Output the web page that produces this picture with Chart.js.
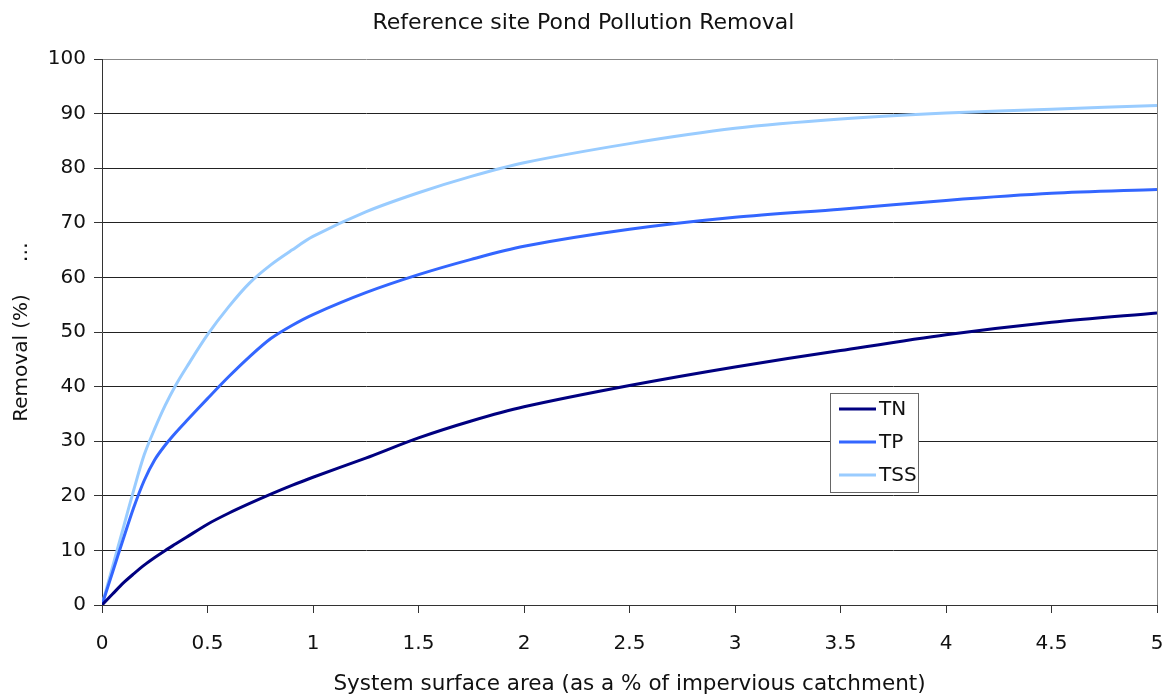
<!DOCTYPE html>
<html>
<head>
<meta charset="utf-8">
<script src="https://cdn.jsdelivr.net/npm/chart.js@4"></script>
<style>
  html, body { margin: 0; padding: 0; background: #fff; }
  #wrap { width: 1167px; height: 697px; position: relative; }
</style>
</head>
<body>
<div id="wrap"><canvas id="chart"></canvas></div>
<script>
// System surface area (% of impervious catchment)
const areaPct = [0, 0.05, 0.1, 0.15, 0.2, 0.25, 0.3, 0.35, 0.4, 0.5, 0.6, 0.7, 0.8, 0.9, 1.0,
                 1.25, 1.5, 1.75, 2, 2.5, 3, 3.5, 4, 4.5, 5];
// Removal (%)
const tnRemoval  = [0, 2, 4, 5.7, 7.3, 8.7, 10, 11.2, 12.4, 14.8, 16.8, 18.6, 20.3, 21.9, 23.4,
                    26.9, 30.6, 33.7, 36.3, 40.2, 43.6, 46.6, 49.5, 51.8, 53.5];
const tpRemoval  = [0, 6, 12, 17.8, 22.8, 26.6, 29.3, 31.6, 33.7, 37.8, 41.8, 45.5, 48.8, 51.2, 53.2,
                    57.2, 60.5, 63.3, 65.7, 68.8, 71, 72.5, 74.1, 75.4, 76.1];
const tssRemoval = [0, 7, 14, 21, 27.5, 32.3, 36.6, 40.3, 43.5, 49.5, 54.6, 59, 62.3, 65, 67.5,
                    72, 75.5, 78.5, 81, 84.5, 87.3, 89, 90.1, 90.8, 91.5];
const yTicks = [0, 10, 20, 30, 40, 50, 60, 70, 80, 90, 100];
const xTicks = [0, 0.5, 1, 1.5, 2, 2.5, 3, 3.5, 4, 4.5, 5];

const FONT = "'DejaVu Sans', sans-serif";
const toPoints = (ys) => areaPct.map((x, i) => ({ x: x, y: ys[i] }));

function makeSeries(label, ys, color) {
    return {
        label: label,
        data: toPoints(ys),
        borderColor: color,
        backgroundColor: color,
        borderWidth: 3,
        pointRadius: 0,
        tension: 0.3,
        fill: false
    };
}

// legend drawn in a box inside the plot area, like the original
const boxLegend = {
    id: 'boxLegend',
    afterDraw(chart) {
        const ctx = chart.ctx;
        const area = chart.chartArea;
        const left = area.left + 728, top = area.top + 334;
        const w = 88, h = 99;
        ctx.save();
        ctx.fillStyle = '#fff';
        ctx.fillRect(left, top, w, h);
        ctx.strokeStyle = '#666';
        ctx.lineWidth = 1;
        ctx.strokeRect(left + 0.5, top + 0.5, w, h);
        ctx.font = '20px ' + FONT;
        ctx.textBaseline = 'middle';
        chart.data.datasets.forEach((ds, i) => {
            const y = top + 16 + i * 33;
            ctx.strokeStyle = ds.borderColor;
            ctx.lineWidth = 3;
            ctx.beginPath();
            ctx.moveTo(left + 9, y);
            ctx.lineTo(left + 46, y);
            ctx.stroke();
            ctx.fillStyle = '#111';
            ctx.fillText(ds.label, left + 49, y + 1);
        });
        ctx.restore();
    }
};

new Chart(document.getElementById('chart'), {
    type: 'line',
    data: {
        datasets: [
            makeSeries('TN', tnRemoval, '#000080'),
            makeSeries('TP', tpRemoval, '#3366ff'),
            makeSeries('TSS', tssRemoval, '#99ccff')
        ]
    },
    options: {
        responsive: true,
        maintainAspectRatio: false,
        animation: false,
        layout: { padding: { top: 59, right: 10, left: 0, bottom: 0 } },
        scales: {
            x: {
                type: 'linear',
                min: 0, max: 5,
                afterFit: (s) => { s.height = 92; s.paddingLeft = 0; s.paddingRight = 6; },
                afterBuildTicks: (s) => { s.ticks = xTicks.map(v => ({ value: v })); },
                ticks: { color: '#111', font: { family: FONT, size: 20 }, padding: 19, maxRotation: 0,
                         callback: (v) => String(v) },
                grid: { color: (c) => c.tick && c.tick.value === 5 ? '#888' : 'rgba(0,0,0,0)',
                        tickColor: '#333', tickLength: 8, lineWidth: 1 },
                border: { color: '#333', width: 1 },
                title: { display: true, text: 'System surface area (as a % of impervious catchment)',
                         color: '#111', font: { family: FONT, size: 21.5 }, padding: { top: 1, bottom: 0 } }
            },
            y: {
                min: 0, max: 100,
                afterFit: (s) => { s.width = 102; },
                afterBuildTicks: (s) => { s.ticks = yTicks.map(v => ({ value: v })); },
                ticks: { color: '#111', font: { family: FONT, size: 20 }, padding: 8 },
                grid: { color: (c) => c.tick && c.tick.value === 100 ? '#888' : '#222',
                        tickColor: '#333', tickLength: 8, lineWidth: 1 },
                border: { color: '#333', width: 1 },
                title: { display: true, text: 'Removal (%)     \u2026',
                         color: '#111', font: { family: FONT, size: 20 }, padding: { top: 10, bottom: 0 } }
            }
        },
        plugins: {
            legend: { display: false },
            tooltip: { enabled: false },
            title: { display: false }
        }
    },
    plugins: [boxLegend, {
        id: 'topTitle',
        afterDraw(chart) {
            const ctx = chart.ctx;
            ctx.save();
            ctx.font = '22px ' + FONT;
            ctx.fillStyle = '#111';
            ctx.textAlign = 'center';
            ctx.textBaseline = 'middle';
            ctx.fillText('Reference site Pond Pollution Removal', chart.width / 2, 23);
            ctx.restore();
        }
    }]
});
</script>
</body>
</html>
